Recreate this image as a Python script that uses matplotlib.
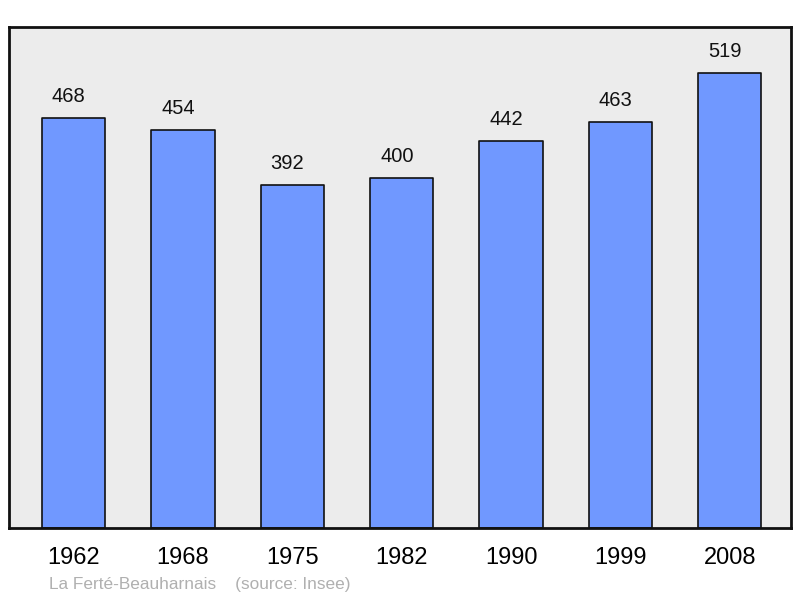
import numpy as np
import matplotlib.pyplot as plt

years = ["1962", "1968", "1975", "1982", "1990", "1999", "2008"]
population = [468, 454, 392, 400, 442, 463, 519]

plt.rcParams['font.family'] = ['Liberation Sans', 'DejaVu Sans']

fig = plt.figure(figsize=(8, 5.98), dpi=100)
ax = fig.add_axes([9 / 800, 70 / 598, 782 / 800, 501 / 598])
ax.set_facecolor('#ececec')

x = np.arange(len(years))
bars = ax.bar(x, population, width=0.58, color='#7098ff', edgecolor='#111111',
              linewidth=1.2, joinstyle='round')
for xi, v in zip(x, population):
    ax.annotate(str(v), (xi, v), xytext=(-3.5, 15.5), textcoords='offset points',
                ha='center', va='center', fontsize=14.5, color='#111111')

ax.set_xlim(-0.59, 6.56)
ax.set_ylim(0, 572)
ax.set_yticks([])
ax.set_xticks(x)
ax.set_xticklabels(years, fontsize=17)
ax.tick_params(axis='x', length=0, pad=14)
for s in ax.spines.values():
    s.set_linewidth(2)
    s.set_color('#111111')
    s.set_joinstyle('round')

fig.text(49 / 800, 1 - 584 / 598, "La Ferté-Beauharnais    (source: Insee)",
         fontsize=12.4, color='#b0b0b0', ha='left', va='center')

fig.savefig('out.png', dpi=100)
